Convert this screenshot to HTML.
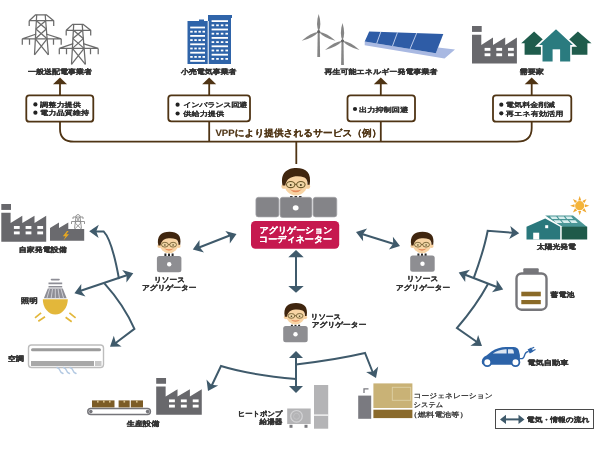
<!DOCTYPE html>
<html><head><meta charset="utf-8">
<style>
html,body{margin:0;padding:0;background:#fff;width:600px;height:450px;overflow:hidden}
svg{display:block;will-change:transform;filter:blur(0.35px)}
text{text-rendering:geometricPrecision;font-family:"Liberation Sans",sans-serif;fill:#333;font-weight:bold;stroke:#333;stroke-width:0.3}
.lb{font-size:8px}
.rg{font-weight:normal;stroke-width:0.32}
.bt{font-size:8.2px;fill:#2a2a2a;stroke:#2a2a2a;stroke-width:0.06;transform-box:fill-box;transform-origin:50% 60%;transform:scaleY(0.8)}
</style></head><body>
<svg width="600" height="450" viewBox="0 0 600 450">
<defs>
  <marker id="ab" viewBox="0 0 10 10" refX="5" refY="5" markerWidth="5" markerHeight="5" orient="auto"><path d="M0,0 L10,5 L0,10 z" fill="#3f5a6b"/></marker>
  <g id="tower" fill="none" stroke="#6b6b6b" stroke-width="1.25" stroke-linejoin="round">
    <path d="M6.9,5.9 L13.3,0 H24 L31.4,5.9 H6.9 M6.9,5.9 V11.2 M31.4,5.9 V11.2"/>
    <path d="M14.4,0 L12.2,40 M22.9,0 L26.1,40"/>
    <path d="M14.1,5.9 L24.0,14.2 M23.4,5.9 L13.6,14.2 M13.6,14.2 L24.8,24 M24.0,14.2 L13.1,24 M13.1,24 L26.1,40 M24.8,24 L12.2,40"/>
    <path d="M0,24 H38.9 M14,19.2 L0,24 M23.8,19.2 L38.9,24 M0,24 V29.9 M7.2,24 V29.9 M31.2,24 V29.9 M38.9,24 V29.9"/>
  </g>
  <g id="person">
    <path d="M-5.5,21.2 h11 v3 h-11z" fill="#fff"/>
    <path d="M-4.6,21.6 h2 v2.6 h-2z M-1,21.6 h2 v2.6 h-2z M2.6,21.6 h2 v2.6 h-2z" fill="#2a2a2a"/>
    <circle cx="-9.6" cy="14" r="2" fill="#f6d0a0"/>
    <circle cx="9.6" cy="14" r="2" fill="#f6d0a0"/>
    <ellipse cx="0" cy="12" rx="9.3" ry="9.2" fill="#f8d4a4"/>
    <path d="M-10.6,13.5 C-12.8,4 -7.5,-0.3 0.5,-0.3 C8.5,-0.3 12.8,3.5 11.2,12.8 L9.5,12.8 C9.6,9.8 8.6,8 7,7.2 C4,6.2 1,6 -2,6.6 C-5.2,7.3 -7.6,9 -8.5,13.5 z" fill="#40260f"/>
    <ellipse cx="-4.1" cy="12.7" rx="3.4" ry="2.4" fill="#eed4a4" stroke="#6a5628" stroke-width="0.8"/>
    <ellipse cx="4.1" cy="12.7" rx="3.4" ry="2.4" fill="#eed4a4" stroke="#6a5628" stroke-width="0.8"/>
    <path d="M-0.8,12.5 H0.8" stroke="#6a5628" stroke-width="0.8"/>
    <circle cx="-4.1" cy="13" r="0.8" fill="#4a3a20"/><circle cx="4.1" cy="13" r="0.8" fill="#4a3a20"/>
    <path d="M-5,16.3 Q0,21 5,16.3 Q0,18.2 -5,16.3z" fill="#e58a5a"/>
  </g>
  <g id="laptop">
    <rect x="-12.3" y="0" width="24.5" height="16.2" rx="2.5" fill="#8e8e92"/>
    <circle cx="0" cy="8.2" r="2.2" fill="#fff"/>
  </g>
  <g id="factory">
    <path d="M0,0 H9.7 V5.9 H0z" fill="#68686c"/>
    <path d="M0,8.8 H9.3 V19 L21,11.6 V19 L33.2,11.6 V19 L44.9,11.6 V37.5 H0z" fill="#68686c"/>
    <g fill="#fff"><rect x="12.6" y="21.9" width="5.8" height="2.9"/><rect x="24.3" y="21.9" width="5.8" height="2.9"/><rect x="36" y="21.9" width="5.8" height="2.9"/>
    <rect x="12.6" y="27.3" width="5.8" height="2.9"/><rect x="24.3" y="27.3" width="5.8" height="2.9"/><rect x="36" y="27.3" width="5.8" height="2.9"/></g>
  </g>
</defs>

<!-- ===== TOP ROW ICONS ===== -->
<use href="#tower" x="22.3" y="14.8"/>
<use href="#tower" x="59.3" y="24.4"/>
<text transform="matrix(1.0016 0.0000 0.0000 0.8600 -0.1497 9.6500)" class="lb" x="60" y="74.5" text-anchor="middle">一般送配電事業者</text>

<!-- buildings -->
<g fill="#2f64a9">
  <path d="M187.5,21 H199 V19.5 H204 V21 H208 V64 H187.5z"/>
  <path d="M208,15 H232 V18 H231 V64 H208z"/>
</g>
<g fill="#fff" id="win">
<rect x="190.2" y="26.6" width="14.8" height="1.8"/>
<rect x="190.2" y="30.8" width="2.5" height="1.8"/>
<rect x="194.3" y="30.8" width="2.5" height="1.8"/>
<rect x="198.4" y="30.8" width="2.5" height="1.8"/>
<rect x="202.5" y="30.8" width="2.5" height="1.8"/>
<rect x="190.2" y="35.0" width="14.8" height="1.8"/>
<rect x="190.2" y="39.2" width="2.5" height="1.8"/>
<rect x="194.3" y="39.2" width="2.5" height="1.8"/>
<rect x="198.4" y="39.2" width="2.5" height="1.8"/>
<rect x="202.5" y="39.2" width="2.5" height="1.8"/>
<rect x="190.2" y="43.4" width="14.8" height="1.8"/>
<rect x="190.2" y="47.6" width="2.5" height="1.8"/>
<rect x="194.3" y="47.6" width="2.5" height="1.8"/>
<rect x="198.4" y="47.6" width="2.5" height="1.8"/>
<rect x="202.5" y="47.6" width="2.5" height="1.8"/>
<rect x="190.2" y="51.8" width="14.8" height="1.8"/>
<rect x="190.2" y="56.0" width="2.5" height="1.8"/>
<rect x="194.3" y="56.0" width="2.5" height="1.8"/>
<rect x="198.4" y="56.0" width="2.5" height="1.8"/>
<rect x="202.5" y="56.0" width="2.5" height="1.8"/>
<rect x="190.2" y="60.0" width="14.8" height="1.8"/>
<rect x="211.6" y="20.2" width="16.4" height="1.8"/>
<rect x="211.6" y="24.4" width="2.6" height="1.8"/>
<rect x="216.2" y="24.4" width="2.6" height="1.8"/>
<rect x="220.8" y="24.4" width="2.6" height="1.8"/>
<rect x="225.4" y="24.4" width="2.6" height="1.8"/>
<rect x="211.6" y="28.6" width="16.4" height="1.8"/>
<rect x="211.6" y="32.8" width="2.6" height="1.8"/>
<rect x="216.2" y="32.8" width="2.6" height="1.8"/>
<rect x="220.8" y="32.8" width="2.6" height="1.8"/>
<rect x="225.4" y="32.8" width="2.6" height="1.8"/>
<rect x="211.6" y="37.0" width="16.4" height="1.8"/>
<rect x="211.6" y="41.2" width="2.6" height="1.8"/>
<rect x="216.2" y="41.2" width="2.6" height="1.8"/>
<rect x="220.8" y="41.2" width="2.6" height="1.8"/>
<rect x="225.4" y="41.2" width="2.6" height="1.8"/>
<rect x="211.6" y="45.4" width="16.4" height="1.8"/>
<rect x="211.6" y="49.6" width="2.6" height="1.8"/>
<rect x="216.2" y="49.6" width="2.6" height="1.8"/>
<rect x="220.8" y="49.6" width="2.6" height="1.8"/>
<rect x="225.4" y="49.6" width="2.6" height="1.8"/>
<rect x="211.6" y="53.8" width="16.4" height="1.8"/>
<rect x="211.6" y="58.0" width="2.6" height="1.8"/>
<rect x="216.2" y="58.0" width="2.6" height="1.8"/>
<rect x="220.8" y="58.0" width="2.6" height="1.8"/>
<rect x="225.4" y="58.0" width="2.6" height="1.8"/>
<rect x="207.7" y="21" width="1" height="43"/>
</g>
<text transform="matrix(0.9912 0.0000 0.0000 0.8600 1.6015 10.0000)" class="lb" x="209" y="74.5" text-anchor="middle">小売電気事業者</text>

<!-- wind turbines -->
<g fill="#858585">
  <path d="M318.7,31.7 Q322.0,24.6 318.7,14.0 Q315.4,24.6 318.7,31.7z"/>
  <path d="M318.7,31.7 Q310.5,32.7 301.7,40.8 Q313.3,38.0 318.7,31.7z"/>
  <path d="M318.7,31.7 Q324.0,38.0 335.5,40.8 Q326.8,32.7 318.7,31.7z"/>
  <path d="M317.7,31.7 L319.7,31.7 L320.1,57 L317.3,57z"/>
  <path d="M342.5,40.8 Q345.8,33.7 342.5,23.0 Q339.2,33.7 342.5,40.8z"/>
  <path d="M342.5,40.8 Q334.1,41.8 325.0,50.0 Q336.9,47.1 342.5,40.8z"/>
  <path d="M342.5,40.8 Q347.9,47.1 359.5,50.0 Q350.7,41.8 342.5,40.8z"/>
  <path d="M341.5,40.8 L343.5,40.8 L343.9,65 L341.1,65z"/>
  <circle cx="318.7" cy="31.7" r="1.6" fill="#666"/>
  <circle cx="342.5" cy="40.8" r="1.6" fill="#666"/>
</g>
<!-- solar -->
<path d="M364.7,41.5 L435.8,53.2 L438,47.6 L455,49.5 L444.5,58.5 L364.7,45.2z" fill="#a9b9e2"/>
<path d="M369.2,31.5 L443.3,34 L435.8,53.2 L364.7,41.5z" fill="#2e5ca6"/>
<g stroke="#c9d6f0" stroke-width="0.9">
  <path d="M380.8,31.9 L376.7,43.4 M397.5,32.4 L392.5,46 M416.7,33.1 L410,49.1"/>
</g>
<text transform="matrix(1.0018 0.0000 0.0000 0.8600 -0.7125 9.7000)" class="lb" x="381" y="74.5" text-anchor="middle">再生可能エネルギー発電事業者</text>

<!-- factory + houses -->
<use href="#factory" x="472" y="26"/>
<path d="M521.2,43.2 L534.1,31.6 L547,43.2 H544 V54.8 H524.6 V43.2z" fill="#1f5c4c"/>
<path d="M591.5,43.2 L577.9,31.6 L565,43.2 H568 V54.8 H587.4 V43.2z" fill="#1f5c4c"/>
<path d="M536.9,45.9 L556,28.2 L575.1,45.9 H571 V62.3 H541.7 V45.9z" fill="#2a7b7f" stroke="#fff" stroke-width="1.6" stroke-linejoin="miter"/>
<rect x="552.6" y="49.3" width="7.5" height="13.2" fill="#fff"/>
<text transform="matrix(1.0213 0.0000 0.0000 0.8600 -11.5646 9.5500)" class="lb" x="532" y="74.5" text-anchor="middle">需要家</text>

<!-- ===== SERVICE BOXES ===== -->
<g fill="none" stroke="#4f3414" stroke-width="1.8">
  <path d="M60,84 V95.5"/>
  <path d="M209.2,84 V95.5 M209.2,121.3 V141.7"/>
  <path d="M380.8,84 V95.5 M380.8,121.3 V141.7"/>
  <path d="M531.7,84 V95.5"/>
  <path d="M60,121.7 V129 Q60,141.7 74,141.7 H517 Q531.7,141.7 531.7,128 V121.7"/>
  <path d="M296.3,141.7 V164"/>
  <rect x="26.3" y="95.3" width="67" height="26.4" rx="3" fill="#fff"/>
  <rect x="168.3" y="95.3" width="81.7" height="26" rx="3" fill="#fff"/>
  <rect x="347.5" y="95.3" width="67.5" height="26" rx="3" fill="#fff"/>
  <rect x="493" y="95.3" width="78.3" height="26.4" rx="3" fill="#fff"/>
</g>
<g fill="#4f3414">
  <path d="M53,84.3 L60,77.5 L67,84.3z"/>
  <path d="M202.2,84.3 L209.2,77.5 L216.2,84.3z"/>
  <path d="M373.8,84.3 L380.8,77.5 L387.8,84.3z"/>
  <path d="M524.7,84.3 L531.7,77.5 L538.7,84.3z"/>
</g>
<g fill="#222">
  <circle cx="35.4" cy="104.4" r="2.1"/><circle cx="35.4" cy="112.7" r="2.1"/>
  <circle cx="177.6" cy="104.7" r="2.1"/><circle cx="177.6" cy="113.5" r="2.1"/>
  <circle cx="355" cy="109" r="2.1"/>
  <circle cx="501.3" cy="104.7" r="2.1"/><circle cx="501.3" cy="113.3" r="2.1"/>
</g>
<g>
  <text class="bt" x="40" y="107.7">調整力提供</text>
  <text class="bt" x="40" y="115.9">電力品質維持</text>
  <text class="bt" x="183.3" y="107.7" style="letter-spacing:-0.4px">インバランス回避</text>
  <text class="bt" x="183.3" y="116.6">供給力提供</text>
  <text class="bt" x="359" y="112.2">出力抑制回避</text>
  <text class="bt" x="505.8" y="107.7">電気料金削減</text>
  <text class="bt" x="505.8" y="116.7">再エネ有効活用</text>
</g>
<text transform="matrix(0.9639 0.0000 0.0000 0.9200 7.2072 10.6500)" x="216" y="136" style="font-size:10px;fill:#4f3515;stroke:#4f3515;stroke-width:0.15">VPPにより提供されるサービス（例）</text>

<!-- ===== CENTER COORDINATOR ===== -->
<use href="#person" transform="translate(295.8,168.3) scale(1.24,1.28)"/>
<g fill="#848488" stroke="#a4a4a8" stroke-width="0.7">
  <rect x="255.9" y="197.3" width="23" height="19.6" rx="2.5"/>
  <rect x="280.1" y="197.3" width="31.8" height="20.2" rx="2.5"/>
  <rect x="313.1" y="197.3" width="23.7" height="19.6" rx="2.5"/>
</g>
<ellipse cx="295.7" cy="207.8" rx="2.9" ry="2.6" fill="#fff"/>
<rect x="251" y="221" width="88.2" height="27.7" rx="4.5" fill="#c6194f"/>
<text transform="matrix(0.9077 0.0000 0.0000 0.8600 27.0902 32.2500)" x="296.3" y="233.2" text-anchor="middle" style="font-size:9.8px;fill:#fff;stroke:#fff;stroke-width:0.2">アグリゲーション</text>
<text transform="matrix(0.9203 0.0000 0.0000 0.8600 22.8595 32.6500)" x="296.3" y="243.1" text-anchor="middle" style="font-size:9.8px;fill:#fff;stroke:#fff;stroke-width:0.2">コーディネーター</text>

<!-- ===== ARROWS ===== -->
<g fill="none" stroke="#3f5a6b" stroke-width="2">
  <path d="M296,256 V287"/>
  <path d="M199,247.5 L231,235"/>
  <path d="M362,234 L394,244"/>
  <!-- left branch -->
  <path d="M80,291 L127.5,275"/>
  <path d="M119,279 Q112,240 103.6,231.4 H95"/>
  <path d="M104.4,283.3 Q124,305 134.4,328.9 L115,343.5"/>
  <!-- right branch -->
  <path d="M464.5,274.5 L497.5,287.3"/>
  <path d="M473.8,277.8 Q484,250 487.7,230.7 L513,232.8"/>
  <path d="M488,284 Q476,306 457,328 L477,342"/>
  <!-- bottom -->
  <path d="M296,357 V387"/>
  <path d="M296,379 Q250,375 221,366 L211.5,386"/>
  <path d="M296,364.4 Q335,360 365,353 L373,373"/>
</g>
<g fill="#3f5a6b">
  <path d="M288.3,257.2 L296,249.9 L303.7,257.2z"/>
  <path d="M288.3,286 L296,292.8 L303.7,286z"/>
  <path d="M289,358 L296,351 L303,358z"/>
  <path d="M289,386 L296,393 L303,386z"/>
</g>
<!-- arrowheads along lines: drawn as rotated triangles -->
<g fill="#3f5a6b" id="heads">
  <path d="M192.8,249.5 L199.5,240.1 L199.5,247.1 L204.0,252.5z"/>
  <path d="M236.5,234.0 L229.8,243.4 L229.8,236.4 L225.3,231.0z"/>
  <path d="M356.0,232.0 L367.1,228.6 L362.8,234.2 L363.1,241.2z"/>
  <path d="M400.0,246.0 L388.9,249.4 L393.2,243.8 L392.9,236.8z"/>
  <path d="M74.4,293.3 L81.3,284.0 L81.1,291.0 L85.5,296.5z"/>
  <path d="M133.3,273.3 L126.4,282.6 L126.6,275.6 L122.2,270.1z"/>
  <path d="M89.2,231.2 L98.8,224.7 L96.3,231.3 L98.6,237.9z"/>
  <path d="M110.0,346.7 L113.8,335.8 L115.8,342.5 L121.6,346.4z"/>
  <path d="M458.7,272.5 L469.9,269.7 L465.4,275.0 L465.2,282.0z"/>
  <path d="M503.2,289.4 L492.0,292.2 L496.5,286.9 L496.7,279.9z"/>
  <path d="M519.2,233.3 L509.2,239.1 L512.1,232.7 L510.3,225.9z"/>
  <path d="M482.0,346.0 L470.4,345.8 L476.2,341.8 L478.1,335.1z"/>
  <path d="M208.0,391.0 L206.5,379.5 L211.3,384.7 L218.2,385.6z"/>
  <path d="M376.0,378.0 L366.1,372.0 L373.1,371.5 L378.2,366.6z"/>
</g>

<!-- ===== LEFT ICONS ===== -->
<use href="#factory" transform="translate(1.3,204) scale(1.0,1.005)"/>
<path d="M50,228 L59,222.5 V228 L68.3,222.5 V229 H84.2 V240.8 H50z" fill="#6a6a6e"/>
<path d="M67,231 L62.8,236.3 H65.6 L63.4,240.5 L69,234.3 H66.2 L68.6,231z" fill="#e8a820"/>
<text transform="matrix(1.0000 0.0000 0.0000 0.8600 0.3000 34.5700)" class="lb" x="42.5" y="253" text-anchor="middle">自家発電設備</text>
<g fill="none" stroke="#8a8a8a" stroke-width="0.9"><path d="M75.5,216.5 Q78,212.5 80.5,216.5 M73,217 H83 M73,217 V219 M83,217 V219 M71.5,221.5 H84.5 M71.5,221.5 V224 M84.5,221.5 V224 M76,216.5 L74.5,228.7 M80,216.5 L81.5,228.7 M76,217 L80.8,223 L75,228.7 M80,217 L75.2,223 L81,228.7"/></g>

<!-- bulb -->
<g>
  <path d="M51.5,279.6 H59" stroke="#8e8e96" stroke-width="1.6" stroke-linecap="round"/>
  <path d="M48.5,283.4 H62.2 M48.5,286.8 H62.2" stroke="#8e8e96" stroke-width="1.6"/>
  <path d="M47.8,288.5 H62.8 L66.7,298.2 H43.9z" fill="#8e8e96"/>
  <g stroke="#e8e8ee" stroke-width="0.7"><path d="M49.5,289 L47,298 M52.5,289 L51.2,298 M55.3,289 V298 M58.1,289 L59.4,298 M61,289 L63.5,298"/></g>
  <path d="M42.8,299.2 H67.8 A12.5,15.4 0 0 1 42.8,299.2z" fill="#e3b73a"/>
  <g stroke="#e3b73a" stroke-width="1.7"><path d="M35,317.9 L41.1,312.9 M38.3,321.2 L45,316.8 M69.4,312.9 L75.6,317.9 M65.6,317.3 L71.7,321.8"/></g>
</g>
<text transform="matrix(1.0667 0.0000 0.0000 0.8600 -1.4000 41.8100)" class="lb" x="28.8" y="303.8" text-anchor="middle">照明</text>

<!-- AC -->
<rect x="28.5" y="345" width="75" height="22.5" rx="3" fill="#fff" stroke="#bdbdbd" stroke-width="1.4"/>
<rect x="31" y="348.2" width="70" height="3" rx="1.5" fill="#9c9c9c"/>
<rect x="31" y="361" width="63" height="5" fill="#a8a8a8"/>
<rect x="95" y="361" width="6.5" height="5" fill="#c8c8c8"/>
<g stroke="#b3c9e2" stroke-width="1.4" fill="none" stroke-linecap="round"><path d="M57,367.5 Q59.5,368.5 60,370.5 Q60.5,372.5 63,373.5 M63.5,367.5 Q66,368.5 66.5,370.5 Q67,372.5 69.5,373.5 M70,367.5 Q72.5,368.5 73,370.5 Q73.5,372.5 76,373.5"/></g>
<text transform="matrix(0.9887 0.0000 0.0000 0.8600 -0.7946 50.2200)" class="lb" x="17" y="361" text-anchor="middle">空調</text>

<!-- production -->
<use href="#factory" transform="translate(156.2,378) scale(1.015,0.978)"/>
<rect x="87.8" y="408.6" width="62.6" height="6" rx="3" fill="#fff" stroke="#75757a" stroke-width="1.5"/>
<circle cx="90.8" cy="411.6" r="1.8" fill="#75757a"/>
<circle cx="147.6" cy="411.6" r="1.8" fill="#75757a"/>
<g fill="#7c5c26">
  <rect x="92" y="400.4" width="22.5" height="7"/><rect x="118.6" y="400.4" width="11.1" height="7"/><rect x="130.8" y="400.4" width="12.2" height="7"/>
</g>
<g fill="#d8c08a"><rect x="97" y="400.4" width="1.6" height="2.2"/><rect x="103" y="400.4" width="1.6" height="2.2"/><rect x="109" y="400.4" width="1.6" height="2.2"/><rect x="123.5" y="400.4" width="1.6" height="2.2"/><rect x="136" y="400.4" width="1.6" height="2.2"/></g>
<text transform="matrix(1.0254 0.0000 0.0000 0.8600 -2.7893 59.6900)" class="lb" x="142.3" y="426" text-anchor="middle">生産設備</text>

<!-- heat pump -->
<rect x="287.2" y="408.5" width="23.5" height="15.5" fill="#b4b4b6"/>
<circle cx="296.5" cy="416.3" r="5.8" fill="none" stroke="#d4d4d6" stroke-width="1.2"/>
<circle cx="296.5" cy="416.3" r="3" fill="none" stroke="#c4c4c6" stroke-width="0.8"/>
<rect x="289.5" y="424.8" width="3" height="3" fill="#7a7a7e"/><rect x="304.5" y="424.8" width="3" height="3" fill="#7a7a7e"/>
<rect x="314" y="385" width="14.2" height="43.7" fill="#b4b4b6"/>
<rect x="314" y="414.5" width="14.2" height="1.2" fill="#fff"/>
<text transform="matrix(0.9167 0.0000 0.0000 0.8600 23.0833 57.0300)" class="lb" x="283" y="417" text-anchor="end">ヒートポンプ</text>
<text transform="matrix(0.9583 0.0000 0.0000 0.8600 11.2917 57.7900)" class="lb" x="283" y="426" text-anchor="end">給湯器</text>

<!-- cogeneration -->
<rect x="358.2" y="395.6" width="13" height="23.2" fill="#7a7a80"/>
<path d="M364,393 V388.8 H368.5" fill="none" stroke="#7a7a80" stroke-width="1.3"/>
<rect x="373.4" y="383.4" width="39" height="24.6" fill="#c9b276"/>
<rect x="392.3" y="387.3" width="18.4" height="13" fill="none" stroke="#ddd0a6" stroke-width="0.9"/>
<rect x="373.4" y="409.7" width="39" height="8.4" fill="#8a6a2c"/>
<text transform="matrix(0.9700 0.0000 0.0000 0.8600 10.9732 54.7600)" class="lb rg" x="415" y="399.2">コージェネレーション</text>
<text transform="matrix(0.9068 0.0000 0.0000 0.8600 37.2272 55.7700)" class="lb rg" x="415" y="408">システム</text>
<text transform="matrix(1.0458 0.0000 0.0000 0.8600 -20.5441 58.1300)" class="lb rg" x="411" y="417.2">（燃料電池等）</text>

<!-- ===== RIGHT ICONS ===== -->
<!-- solar house -->
<path d="M545.2,215.5 H573 L587.2,227 H561z" fill="#4a9696"/>
<g fill="#d8eeee"><path d="M550,216.6 h6.2 l2,2.4 h-6.2z M557.6,216.6 h6.2 l2,2.4 h-6.2z M565.2,216.6 h6 l2,2.4 h-6z M553.6,220.3 h6.4 l2.4,2.8 h-6.4z M561.4,220.3 h6.4 l2.4,2.8 h-6.4z M569.2,220.3 h6.2 l2.4,2.8 h-6.2z"/></g>
<path d="M543,216 L562,227.5" stroke="#fff" stroke-width="2"/>
<path d="M526.5,226.7 L545.2,218.5 L560.2,226.7 V239.5 H526.5z" fill="#2a787c"/>
<rect x="561.7" y="226.7" width="25.5" height="12.8" fill="#1f5a4a"/>
<rect x="533.2" y="232.7" width="6" height="6.8" fill="#fff"/>
<rect x="545.2" y="225.2" width="3" height="3" fill="#fff"/>
<path d="M579.7,196.1 L581.2,200.5 L578.2,200.5z M586.5,198.9 L584.4,203.1 L582.3,201.0z M589.3,205.7 L584.9,207.2 L584.9,204.2z M586.5,212.5 L582.3,210.4 L584.4,208.3z M579.7,215.3 L578.2,210.9 L581.2,210.9z M572.9,212.5 L575.0,208.3 L577.1,210.4z M570.1,205.7 L574.5,204.2 L574.5,207.2z M572.9,198.9 L577.1,201.0 L575.0,203.1z" fill="#f0a830"/>
<circle cx="579.7" cy="205.7" r="4.6" fill="#f4b43a"/>
<text transform="matrix(0.9756 0.0000 0.0000 0.8600 13.9585 34.8000)" class="lb" x="556" y="249.5" text-anchor="middle">太陽光発電</text>

<!-- battery -->
<rect x="523.3" y="268.3" width="15.4" height="6" rx="1" fill="#76767a"/>
<rect x="516.5" y="273.5" width="30" height="36.2" rx="5" fill="#fff" stroke="#76767a" stroke-width="2.4"/>
<rect x="521.3" y="291.7" width="19.5" height="4.6" fill="#8a6a28"/>
<rect x="521.3" y="300" width="19.5" height="4.2" fill="#8a6a28"/>
<text transform="matrix(0.9964 0.0000 0.0000 0.8600 2.4373 40.8000)" class="lb" x="562" y="298" text-anchor="middle">蓄電池</text>

<!-- EV -->
<path d="M483.5,364.8 Q481.6,364.8 481.8,361.5 Q482,357.5 486.5,355.6 L491.5,351.6 Q498,347 506,347 H513.5 Q517.8,347 518.8,350.5 L519.9,355 V362.2 Q519.9,364.8 517.4,364.8 z" fill="#2c63a8"/>
<path d="M492.8,353.6 Q498.5,349.6 505.5,349.3 H506.6 V353.6z M508,349.3 H512 Q513.3,349.3 513.6,351 L514,353.6 H508z" fill="#dce6f2"/>
<circle cx="487.3" cy="362.3" r="3.9" fill="#fff" stroke="#2c63a8" stroke-width="1.8"/>
<circle cx="515.5" cy="362.3" r="3.9" fill="#fff" stroke="#2c63a8" stroke-width="1.8"/>
<path d="M519.5,358.5 Q523.5,359.5 524.5,355.5 Q525.5,351.8 528.5,351.5" fill="none" stroke="#2c63a8" stroke-width="1.3"/>
<path d="M527.6,349.6 L531.2,347.6 L533.4,351.4 L529.8,353.4z" fill="#2c63a8"/>
<path d="M531.5,348.6 L534.2,347.2 M532.8,350.8 L535.5,349.4" stroke="#2c63a8" stroke-width="1.1"/>
<text transform="matrix(1.0333 0.0000 0.0000 0.8600 -18.3325 50.5200)" class="lb" x="548" y="366" text-anchor="middle">電気自動車</text>

<!-- legend -->
<rect x="495.5" y="409.5" width="98" height="19" fill="#fff" stroke="#4a4a4a" stroke-width="1"/>
<path d="M504,419.4 H520" stroke="#3f5a6b" stroke-width="2"/>
<path d="M506,414.8 L500,419.4 L506,424z M518.5,414.8 L524.5,419.4 L518.5,424z" fill="#3f5a6b"/>
<text transform="matrix(0.9735 0.0000 0.0000 0.8600 14.9679 58.7300)" class="lb" x="558" y="422.2" text-anchor="middle">電気・情報の流れ</text>

<!-- persons -->
<use href="#person" x="169" y="232"/>
<use href="#laptop" x="169.2" y="256"/>
<use href="#person" x="422" y="232"/>
<use href="#laptop" x="422.5" y="255.6"/>
<use href="#person" x="295.5" y="303.2"/>
<use href="#laptop" x="295.5" y="326"/>
<text transform="matrix(0.9468 0.0000 0.0000 0.8600 9.4901 39.1300)" class="lb" x="169" y="282" text-anchor="middle">リソース</text>
<text transform="matrix(0.9589 0.0000 0.0000 0.8600 7.1908 40.6800)" class="lb" x="169" y="290" text-anchor="middle">アグリゲーター</text>
<text transform="matrix(0.9703 0.0000 0.0000 0.8600 12.7120 38.1200)" class="lb" x="422.5" y="282.5" text-anchor="middle">リソース</text>
<text transform="matrix(0.9474 0.0000 0.0000 0.8600 22.7368 39.9900)" class="lb" x="422.5" y="290.5" text-anchor="middle">アグリゲーター</text>
<text transform="matrix(0.9326 0.0000 0.0000 0.8600 20.7348 43.3500)" class="lb" x="311" y="320">リソース</text>
<text transform="matrix(0.9598 0.0000 0.0000 0.8600 13.1707 44.5100)" class="lb" x="311" y="329">アグリゲーター</text>
</svg>
</body></html>
